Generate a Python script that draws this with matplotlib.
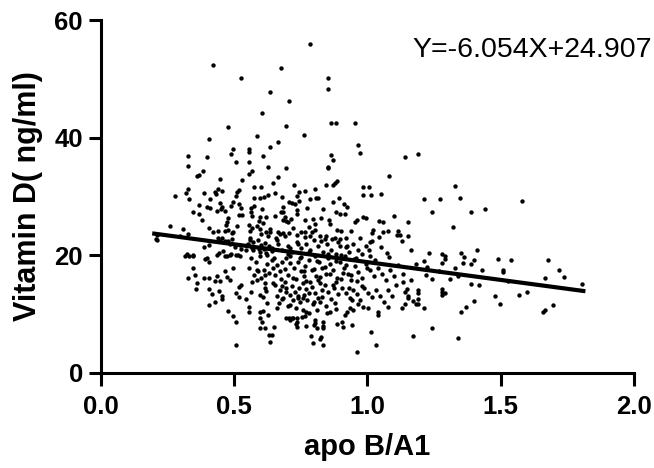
import numpy as np
import matplotlib
matplotlib.use('Agg')
import matplotlib.pyplot as plt

plt.rcParams['font.family'] = ['Liberation Sans', 'DejaVu Sans']

# points, grouped by area of the plot
top_x = [0.42, 0.675, 0.525, 0.634, 0.705, 0.604, 0.694, 0.477, 0.585, 0.405, 0.664,
         0.634, 0.495, 0.555, 0.784, 0.852, 0.852, 0.863, 0.882, 0.953, 0.762, 0.964]
top_y = [52.4, 51.9, 50.2, 47.8, 46.3, 44.2, 42.0, 41.8, 40.3, 39.8, 39.3,
         38.4, 38.1, 38.1, 55.9, 50.2, 48.3, 42.5, 42.5, 42.5, 40.5, 38.8]

right_x = [1.141, 1.19, 1.328, 1.212, 1.272, 1.347, 1.242, 1.388, 1.44, 1.58, 1.152, 1.321,
           1.122, 1.152, 1.13, 1.163, 1.231, 1.28, 1.29, 1.29, 1.35, 1.362, 1.411, 1.212,
           1.40, 1.388, 1.358, 1.28, 1.182, 1.223, 1.328, 1.268, 1.43, 1.49, 1.538, 1.508,
           1.508, 1.677, 1.719, 1.737, 1.666, 1.805, 1.527, 1.219, 1.133, 1.163, 1.242, 1.31,
           1.34, 1.388, 1.418, 1.133, 1.148, 1.141, 1.19, 1.19, 1.28, 1.28, 1.29, 1.28,
           1.152, 1.152, 1.19, 1.171, 1.141, 1.182, 1.19, 1.13, 1.212, 1.478, 1.568, 1.598,
           1.40, 1.37, 1.497, 1.35, 1.659, 1.666, 1.696, 1.242, 1.171, 1.34]
right_y = [36.7, 37.2, 31.8, 29.6, 29.6, 29.8, 27.4, 27.4, 27.9, 29.2, 25.7, 24.8,
           23.5, 23.3, 22.4, 20.9, 20.4, 20.2, 19.9, 19.4, 20.4, 19.7, 20.9, 19.0,
           19.2, 18.5, 18.7, 18.7, 18.5, 18.0, 17.9, 17.3, 17.5, 19.4, 19.2, 17.5,
           17.2, 19.2, 17.5, 16.3, 16.2, 15.1, 15.6, 16.7, 16.8, 15.8, 16.0, 16.0,
           16.5, 15.1, 15.0, 15.5, 14.3, 13.8, 14.1, 13.6, 14.3, 13.8, 13.6, 13.3,
           13.1, 12.8, 12.6, 12.2, 11.7, 11.7, 11.7, 11.1, 11.1, 13.1, 13.3, 13.8,
           12.2, 11.2, 11.7, 10.4, 10.4, 10.7, 11.6, 7.7, 6.3, 6.0]

mid_up_x = [0.863, 0.972, 0.87, 0.852, 0.852, 0.694, 0.664, 0.645, 1.081, 0.724, 0.844, 0.878,
            0.886, 0.87, 0.983, 1.006, 0.803, 0.743, 0.765, 0.653, 0.983, 1.013, 1.05, 0.679,
            0.735, 0.784, 0.807, 0.814, 0.87, 0.893, 0.705, 0.717, 0.728, 0.912, 0.923, 0.683,
            0.743, 0.773, 0.833, 0.683, 0.675, 0.735, 0.735, 0.882, 0.897, 0.916, 0.653, 0.69,
            0.983, 0.994, 0.795, 0.825, 0.856, 0.765, 0.683, 0.694, 0.713, 0.96, 0.953, 1.043,
            1.058, 1.10, 0.803, 0.803, 0.886, 0.90, 0.634, 0.634, 0.664, 0.683, 0.705, 0.735,
            0.75, 0.765, 1.02, 1.017, 1.058, 1.077, 1.114, 0.867, 0.878, 0.897, 0.92, 0.923,
            0.822, 0.825, 1.009, 1.017, 1.006, 1.11, 1.043, 1.05, 1.073, 1.081]
mid_up_y = [37.1, 37.4, 36.2, 35.0, 34.8, 34.9, 33.3, 32.3, 33.5, 32.0, 32.0, 32.3,
            32.7, 32.0, 31.6, 31.6, 31.3, 30.8, 30.9, 30.6, 30.3, 30.3, 30.4, 29.9,
            30.1, 29.6, 29.8, 29.8, 29.1, 29.8, 29.1, 28.9, 28.7, 28.7, 28.2, 28.2,
            29.3, 28.1, 27.9, 27.4, 27.4, 27.7, 27.0, 27.4, 27.0, 27.0, 26.7, 26.5,
            26.5, 26.4, 26.2, 26.4, 26.0, 26.0, 26.0, 25.8, 26.2, 26.0, 25.7, 25.9,
            25.7, 26.7, 25.3, 24.3, 24.3, 24.1, 24.5, 24.0, 24.0, 23.8, 23.8, 23.5,
            24.0, 24.0, 24.3, 23.8, 24.0, 24.1, 24.1, 22.8, 23.0, 22.8, 21.4, 21.6,
            23.3, 22.4, 22.3, 22.4, 20.9, 23.5, 23.1, 21.4, 20.4, 19.7]

left_up_x = [0.326, 0.398, 0.488, 0.555, 0.608, 0.326, 0.507, 0.555, 0.627, 0.383, 0.36, 0.368,
             0.555, 0.567, 0.447, 0.529, 0.428, 0.432, 0.439, 0.454, 0.387, 0.326, 0.319, 0.33,
             0.278, 0.51, 0.507, 0.518, 0.574, 0.60, 0.612, 0.597, 0.574, 0.627, 0.409, 0.447,
             0.454, 0.368, 0.398, 0.409, 0.488, 0.495, 0.518, 0.525, 0.435, 0.45, 0.465, 0.345,
             0.368, 0.518, 0.529, 0.563, 0.574, 0.563, 0.567, 0.604, 0.597, 0.379, 0.477, 0.473,
             0.593, 0.608, 0.259, 0.308, 0.405, 0.439, 0.42, 0.469, 0.465, 0.477, 0.492, 0.495,
             0.51, 0.555, 0.559, 0.567, 0.585, 0.597, 0.60, 0.619, 0.627, 0.21, 0.296, 0.326,
             0.387, 0.405, 0.439, 0.447, 0.454, 0.465, 0.477, 0.492, 0.484, 0.503, 0.522, 0.548,
             0.559, 0.57, 0.589, 0.567, 0.593, 0.60, 0.615, 0.63, 0.323, 0.33, 0.345, 0.398,
             0.443, 0.458, 0.473, 0.488, 0.514, 0.525, 0.544, 0.57, 0.597, 0.619, 0.21, 0.206]
left_up_y = [36.9, 36.7, 37.2, 37.6, 36.9, 35.2, 35.9, 35.9, 35.0, 34.4, 33.5, 33.7,
             33.8, 34.4, 33.0, 32.8, 30.8, 30.4, 31.3, 30.9, 30.6, 31.3, 30.6, 29.6,
             30.1, 30.8, 30.1, 31.1, 31.6, 31.6, 29.9, 29.8, 29.8, 30.3, 29.6, 28.9,
             28.2, 28.6, 28.2, 28.1, 28.4, 29.1, 28.7, 28.1, 27.6, 27.9, 27.6, 27.4,
             27.0, 26.9, 26.9, 28.1, 28.4, 27.4, 26.7, 27.9, 26.5, 26.0, 26.4, 25.7,
             25.9, 25.5, 25.0, 24.5, 24.7, 24.1, 24.0, 25.2, 24.1, 24.3, 23.8, 24.0,
             25.0, 25.2, 24.1, 24.7, 25.0, 24.5, 23.6, 24.0, 23.3, 22.6, 23.3, 23.6,
             21.4, 21.8, 23.0, 22.4, 23.0, 22.4, 22.4, 22.8, 21.9, 21.4, 21.8, 21.8,
             22.6, 22.3, 22.6, 21.3, 21.1, 21.8, 22.1, 21.6, 20.2, 19.9, 20.1, 19.6,
             20.4, 20.7, 19.9, 20.2, 20.1, 21.1, 20.9, 20.9, 20.6, 20.4, 23.5, 22.8]

left_low_x = [0.315, 0.345, 0.39, 0.405, 0.435, 0.465, 0.484, 0.507, 0.522, 0.563, 0.597, 0.623,
              0.345, 0.353, 0.326, 0.387, 0.405, 0.36, 0.356, 0.435, 0.428, 0.447, 0.465, 0.473,
              0.484, 0.495, 0.518, 0.525, 0.405, 0.417, 0.443, 0.454, 0.454, 0.428, 0.405, 0.507,
              0.518, 0.477, 0.495, 0.507, 0.507, 0.544, 0.555, 0.574, 0.585, 0.567, 0.585, 0.563,
              0.555, 0.555, 0.597, 0.608, 0.615, 0.615, 0.597, 0.608, 0.597, 0.604, 0.597, 0.615,
              0.63, 0.634, 0.623, 0.627, 0.612, 0.623, 0.615]
left_low_y = [19.9, 19.9, 19.4, 18.9, 20.1, 19.9, 20.1, 20.1, 19.9, 19.6, 19.9, 20.1,
              17.9, 16.7, 16.2, 16.2, 16.2, 15.3, 14.3, 16.5, 15.6, 15.6, 17.3, 16.3,
              15.8, 17.9, 14.6, 15.0, 14.3, 13.4, 13.9, 13.1, 12.6, 12.1, 11.6, 13.6,
              12.9, 10.5, 9.7, 8.7, 4.8, 12.6, 17.9, 16.7, 17.5, 15.5, 15.8, 13.8,
              11.2, 10.4, 13.3, 12.9, 14.5, 15.3, 10.4, 10.5, 9.4, 8.7, 7.7, 7.7,
              6.5, 5.3, 11.9, 9.9, 17.5, 18.5, 16.7]

mid_low_x = [0.645, 0.653, 0.675, 0.645, 0.69, 0.694, 0.709, 0.668, 0.702, 0.72, 0.72, 0.709,
             0.735, 0.732, 0.758, 0.765, 0.78, 0.769, 0.799, 0.81, 0.833, 0.788, 0.822, 0.96,
             0.795, 0.833, 0.825, 1.032, 1.013, 0.942, 0.908, 0.886, 0.904, 0.649, 0.642, 0.833,
             0.833, 0.803, 0.803, 0.735, 0.735, 0.717, 0.694, 0.705, 0.754, 0.769, 0.81, 0.848,
             0.859, 0.878, 0.916, 0.923, 0.934, 0.946, 1.039, 1.039, 1.077, 0.983, 1.002, 0.964,
             0.942]
mid_low_y = [17.9, 16.7, 16.0, 15.3, 15.5, 13.8, 13.3, 11.9, 11.4, 12.4, 9.4, 9.0,
             9.4, 8.3, 10.7, 9.7, 10.2, 8.0, 8.2, 7.7, 8.0, 6.3, 5.8, 3.6,
             5.1, 4.8, 6.1, 4.8, 7.0, 8.2, 7.8, 8.3, 8.7, 7.8, 6.5, 8.7,
             7.7, 9.0, 8.5, 8.7, 7.8, 9.4, 9.4, 9.4, 9.5, 10.4, 10.7, 10.2,
             10.4, 11.9, 9.9, 10.4, 11.1, 10.7, 10.4, 9.9, 11.2, 11.2, 11.1, 11.7,
             12.4]

core_x = [0.653, 0.672, 0.66, 0.694, 0.717, 0.728, 0.743, 0.758, 0.769, 0.78, 0.792, 0.803,
          0.814, 0.829, 0.84, 0.852, 0.863, 0.874, 0.889, 0.904, 0.92, 0.934, 0.946, 0.96,
          0.972, 0.987, 1.002, 1.017, 1.032, 1.047, 1.062, 1.077, 1.092, 1.107, 0.683, 0.709,
          0.747, 0.773, 0.795, 0.822, 0.844, 0.739, 0.758,
          0.642, 0.66, 0.679, 0.694, 0.709, 0.724, 0.739, 0.75, 0.765, 0.78, 0.792, 0.807,
          0.818, 0.829, 0.844, 0.859, 0.87, 0.886, 0.897, 0.912, 0.927, 0.938, 0.953, 0.964,
          0.979, 0.994, 1.009, 1.024, 1.039, 1.054, 1.069, 1.084, 1.099, 1.114, 0.672, 0.702,
          0.732, 0.762, 0.784, 0.814, 0.882, 0.747, 0.852, 0.957, 1.028,
          0.642, 0.664, 0.679, 0.702, 0.717, 0.735, 0.75, 0.769, 0.784, 0.799, 0.814, 0.833,
          0.848, 0.863, 0.882, 0.897, 0.931, 0.946, 0.964, 0.979, 0.994, 0.657, 0.69, 0.765,
          0.784, 0.844, 0.972, 0.709, 0.803, 0.916, 1.009]
core_y = [15.0, 14.1, 13.1, 14.5, 14.8, 13.8, 14.5, 15.3, 14.3, 13.6, 14.6, 13.6,
          12.8, 14.1, 15.0, 13.8, 12.6, 14.5, 13.4, 14.5, 13.6, 12.8, 14.1, 13.4,
          12.4, 14.5, 13.6, 12.9, 14.1, 13.1, 12.1, 14.1, 13.1, 15.0, 12.8, 11.6,
          12.1, 12.4, 11.7, 12.1, 11.4, 13.1, 12.8,
          19.2, 18.4, 18.9, 19.6, 18.7, 17.9, 18.9, 17.3, 18.2, 19.2, 17.5, 16.5,
          18.9, 17.9, 16.8, 18.5, 17.5, 16.2, 18.9, 17.9, 16.8, 15.8, 18.2, 17.2,
          16.2, 18.5, 17.5, 16.5, 17.9, 16.8, 15.8, 17.5, 16.5, 18.4, 17.3, 16.7,
          16.0, 16.5, 15.5, 15.8, 15.5, 19.6, 19.6, 19.6, 19.2,
          21.3, 21.9, 20.9, 21.6, 20.6, 22.3, 21.3, 21.9, 20.9, 22.6, 21.6, 20.6,
          21.9, 20.9, 20.2, 21.6, 20.6, 21.9, 20.9, 20.2, 21.6, 23.0, 23.3, 23.1,
          23.3, 23.3, 23.0, 19.9, 19.9, 19.9, 19.9]

# extra points in the crowded middle of the cloud
dense_x = [0.56, 0.58, 0.61, 0.63, 0.66, 0.68, 0.70, 0.72, 0.74, 0.76, 0.78, 0.80,
           0.82, 0.84, 0.86, 0.88, 0.90, 0.92, 0.94, 0.57, 0.59, 0.62, 0.65, 0.67,
           0.69, 0.71, 0.73, 0.75, 0.77, 0.79, 0.81, 0.83, 0.85, 0.87, 0.89, 0.91,
           0.93, 0.95, 0.55, 0.60, 0.64, 0.68, 0.72, 0.76, 0.80, 0.84, 0.88, 0.92,
           0.96, 1.00, 0.62, 0.70, 0.78, 0.86, 0.94, 0.66, 0.74, 0.82, 0.90, 0.98]
dense_y = [23.0, 18.8, 21.0, 17.0, 22.6, 14.8, 20.3, 16.1, 22.0, 13.2, 20.6, 17.7,
           15.3, 22.8, 16.9, 19.1, 15.9, 18.4, 16.6, 21.5, 17.3, 13.9, 19.5, 23.6,
           17.6, 21.2, 11.1, 19.8, 15.7, 23.9, 19.0, 13.0, 20.3, 14.9, 22.2, 17.0,
           14.4, 19.3, 22.0, 16.1, 20.8, 12.5, 24.6, 17.4, 12.1, 18.1, 10.9, 22.9,
           15.6, 17.8, 26.5, 25.6, 24.8, 25.3, 24.2, 11.0, 12.7, 16.3, 20.0, 14.8]

# fitted line given on the chart
slope = -6.054
intercept = 24.907
fit_range = [0.2, 1.81]

apo_b_a1 = np.concatenate([top_x, right_x, mid_up_x, left_up_x, left_low_x, mid_low_x,
                           core_x, dense_x])
vitamin_d = np.concatenate([top_y, right_y, mid_up_y, left_up_y, left_low_y, mid_low_y,
                            core_y, dense_y])

fig = plt.figure(figsize=(6.54, 4.68), dpi=100)
ax = fig.add_axes([0.1544, 0.203, 0.815, 0.754])

ax.scatter(apo_b_a1, vitamin_d, s=10, color='black', linewidths=0, zorder=2)
fx = np.array(fit_range)
ax.plot(fx, slope * fx + intercept, color='black', linewidth=3, zorder=3)

ax.set_xlim(0, 2.0)
ax.set_ylim(0, 60)
ax.set_xticks([0.0, 0.5, 1.0, 1.5, 2.0])
ax.set_xticklabels(['0.0', '0.5', '1.0', '1.5', '2.0'])
ax.set_yticks([0, 20, 40, 60])

for s in ['top', 'right']:
    ax.spines[s].set_visible(False)
for s in ['left', 'bottom']:
    ax.spines[s].set_linewidth(2.2)

ax.tick_params(axis='both', length=9, width=2.2, labelsize=18.5)
ax.tick_params(axis='y', pad=4)
ax.tick_params(axis='x', pad=7)
for lab in ax.get_xticklabels() + ax.get_yticklabels():
    lab.set_fontweight('bold')

ax.set_xlabel('apo B/A1', fontsize=21, fontweight='bold', labelpad=10)
ax.set_ylabel('Vitamin D( ng/ml)', fontsize=22, fontweight='bold', labelpad=8)

ax.text(1.034, 0.915, 'Y=-6.054X+24.907', transform=ax.transAxes, fontsize=20.5,
        ha='right', va='center')

fig.savefig('out.png', dpi=100)
